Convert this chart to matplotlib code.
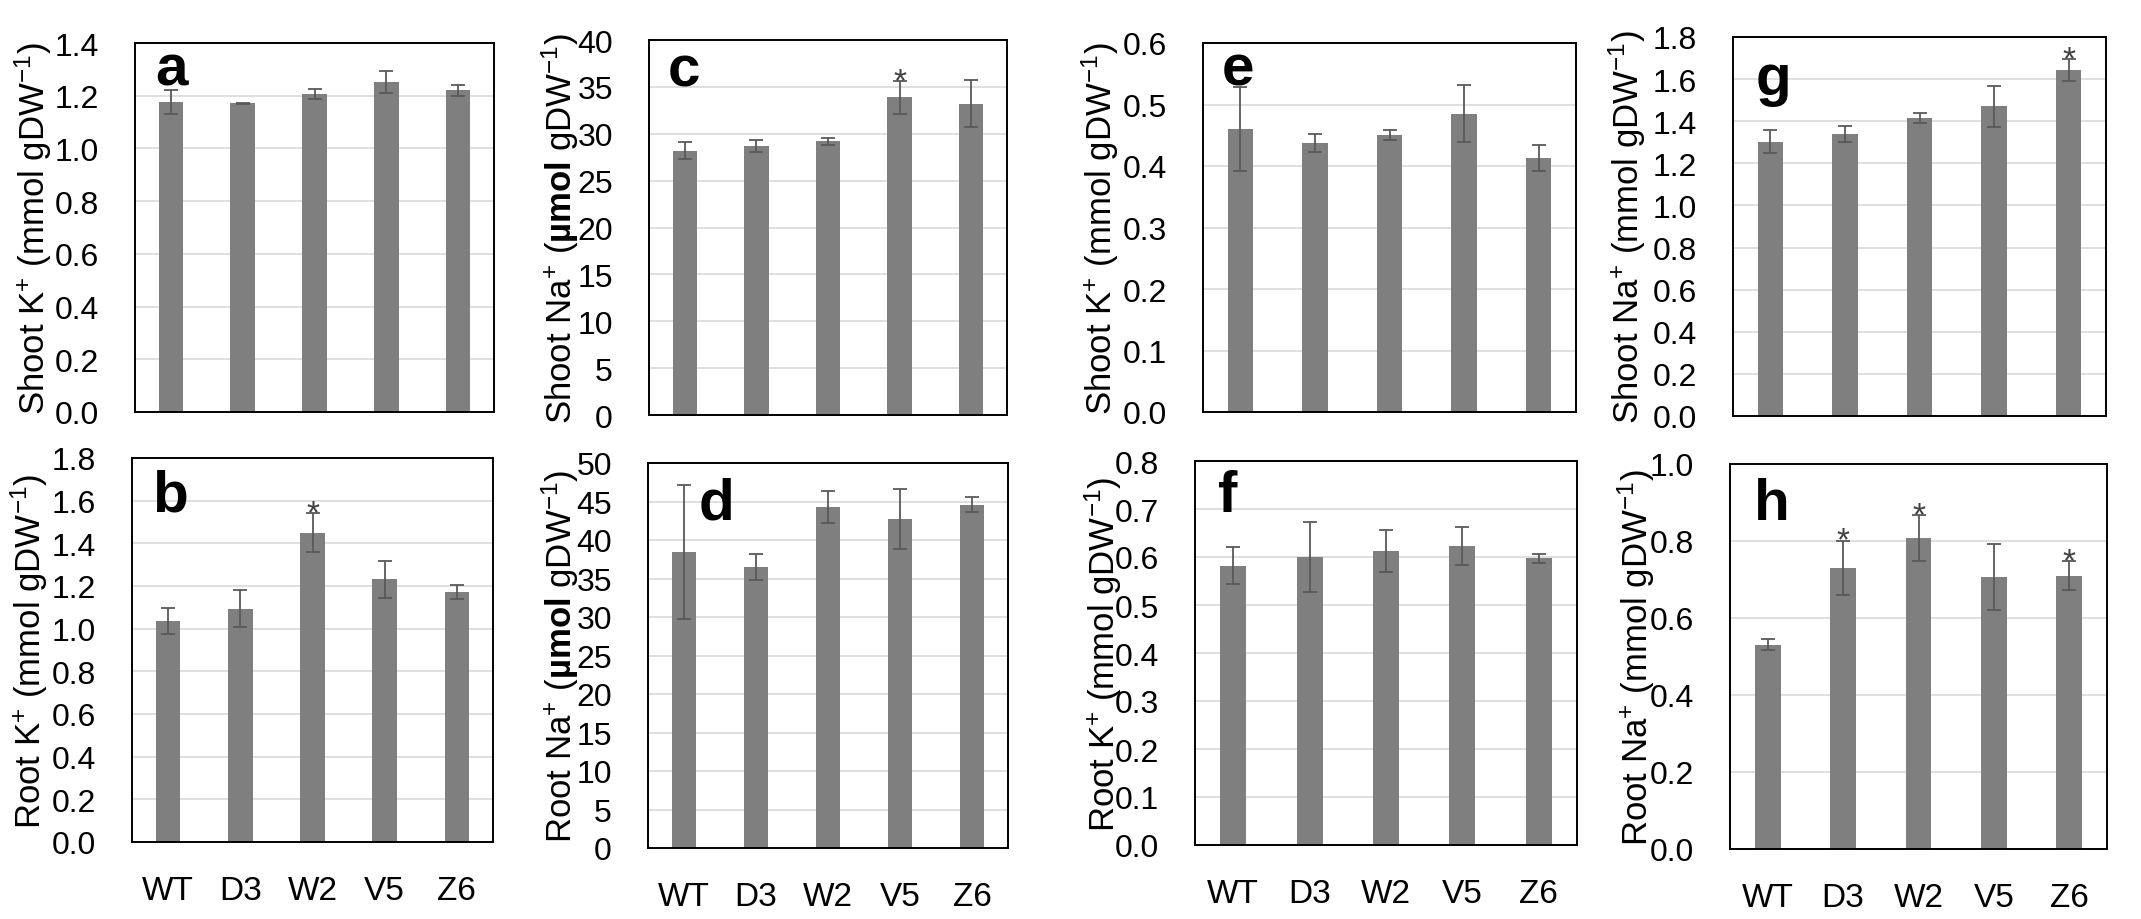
import matplotlib
matplotlib.use('Agg')
import matplotlib.pyplot as plt
import numpy as np

plt.rcParams['font.family'] = ['Liberation Sans', 'DejaVu Sans']
plt.rcParams['mathtext.fontset'] = 'custom'
plt.rcParams['mathtext.rm'] = 'Liberation Sans'
plt.rcParams['mathtext.bf'] = 'Liberation Sans:bold'
plt.rcParams['mathtext.it'] = 'Liberation Sans:italic'

cats = ['WT', 'D3', 'W2', 'V5', 'Z6']

# a: shoot K+ (line 1)
a_vals = [1.176, 1.171, 1.206, 1.252, 1.220]
a_err = [0.045, 0.003, 0.020, 0.043, 0.020]
a_star = []
# b: root K+ (line 1)
b_vals = [1.036, 1.094, 1.450, 1.231, 1.172]
b_err = [0.060, 0.085, 0.092, 0.086, 0.033]
b_star = ['W2']
# c: shoot Na+ (line 1)
c_vals = [28.2, 28.7, 29.2, 33.9, 33.2]
c_err = [0.9, 0.6, 0.4, 1.75, 2.5]
c_star = ['V5']
# d: root Na+ (line 1)
d_vals = [38.4, 36.5, 44.3, 42.7, 44.6]
d_err = [8.7, 1.7, 2.1, 3.9, 1.0]
d_star = []
# e: shoot K+ (line 2)
e_vals = [0.460, 0.437, 0.450, 0.485, 0.413]
e_err = [0.068, 0.015, 0.008, 0.046, 0.021]
e_star = []
# f: root K+ (line 2)
f_vals = [0.582, 0.600, 0.612, 0.623, 0.597]
f_err = [0.039, 0.072, 0.044, 0.039, 0.009]
f_star = []
# g: shoot Na+ (line 2)
g_vals = [1.302, 1.337, 1.414, 1.471, 1.644]
g_err = [0.054, 0.038, 0.024, 0.098, 0.052]
g_star = ['Z6']
# h: root Na+ (line 2)
h_vals = [0.531, 0.731, 0.807, 0.707, 0.710]
h_err = [0.015, 0.070, 0.060, 0.085, 0.038]
h_star = ['D3', 'W2', 'Z6']

W, H = 2141, 920
fig = plt.figure(figsize=(W / 100, H / 100), dpi=100)

lab_sk = r'Shoot K$^{+}$ (mmol gDW$^{-1}$)'
lab_rk = r'Root K$^{+}$ (mmol gDW$^{-1}$)'
lab_sn_u = r'Shoot Na$^{+}$ ($\mathbf{µmol}$ gDW$^{-1}$)'
lab_rn_u = r'Root Na$^{+}$ ($\mathbf{µmol}$ gDW$^{-1}$)'
lab_sn = r'Shoot Na$^{+}$ (mmol gDW$^{-1}$)'
lab_rn = r'Root Na$^{+}$ (mmol gDW$^{-1}$)'

# letter, vals, err, stars, ylabel, ymax, ystep, fmt, box(px), ylabel dist, letter offset, bottom row
panels = [
    ('a', a_vals, a_err, a_star, lab_sk, 1.4, 0.2, '{:.1f}', (135, 44, 494, 413), 102, (20, 41), False),
    ('c', c_vals, c_err, c_star, lab_sn_u, 40, 5, '{:.0f}', (649, 41, 1007, 416), 89, (19, 45), False),
    ('e', e_vals, e_err, e_star, lab_sk, 0.6, 0.1, '{:.1f}', (1203, 44, 1576, 413), 103, (19, 41), False),
    ('g', g_vals, g_err, g_star, lab_sn, 1.8, 0.2, '{:.1f}', (1733, 38, 2106, 417), 106, (23, 57), False),
    ('b', b_vals, b_err, b_star, lab_rk, 1.8, 0.2, '{:.1f}', (132, 459, 493, 843), 103, (20, 53), True),
    ('d', d_vals, d_err, d_star, lab_rn_u, 50, 5, '{:.0f}', (648, 464, 1008, 849), 88, (51, 56), True),
    ('f', f_vals, f_err, f_star, lab_rk, 0.8, 0.1, '{:.1f}', (1195, 462, 1577, 846), 92, (23, 50), True),
    ('h', h_vals, h_err, h_star, lab_rn, 1.0, 0.2, '{:.1f}', (1730, 465, 2107, 850), 94, (24, 55), True),
]

x = np.arange(len(cats))
for letter, vals, err, stars, ylab, ymax, ystep, fmt, box, ydist, loff, bottom in panels:
    l, t, r, b = box
    ax = fig.add_axes([l / W, 1 - b / H, (r - l) / W, (b - t) / H])
    ax.bar(x, vals, width=0.34, color='#7f7f7f', zorder=2)
    ax.errorbar(x, vals, yerr=err, fmt='none', ecolor='#595959', elinewidth=1.3,
                capsize=5, capthick=1.3, zorder=3)
    ax.set_xlim(-0.5, len(cats) - 0.5)
    ax.set_ylim(0, ymax)
    ticks = np.arange(0, ymax + ystep / 2, ystep)
    ax.set_yticks(ticks)
    ax.set_yticklabels([fmt.format(v) for v in ticks], fontsize=23)
    ax.yaxis.grid(True, color='#d9d9d9', linewidth=1.2, zorder=0)
    ax.set_axisbelow(True)
    ax.tick_params(axis='y', length=0, pad=26)
    if bottom:
        ax.set_xticks(x)
        ax.set_xticklabels(cats, fontsize=24)
        ax.tick_params(axis='x', length=0, pad=24)
    else:
        ax.set_xticks([])
    for s in ax.spines.values():
        s.set_linewidth(1.4)
        s.set_color('black')
    ax.set_ylabel(ylab, fontsize=25)
    ax.yaxis.set_label_coords(-ydist / (r - l), 0.5)
    ax.yaxis.label.set_verticalalignment('center')
    ax.annotate(letter, xy=(0, 1), xycoords='axes fraction', xytext=(loff[0], -loff[1]),
                textcoords='offset pixels', fontsize=42, fontweight='bold',
                ha='left', va='baseline')
    for name in stars:
        i = cats.index(name)
        ax.annotate('*', xy=(x[i], vals[i] + err[i]), xycoords='data', xytext=(0, -9),
                    textcoords='offset pixels', fontsize=24, ha='center', va='baseline',
                    color='#404040')

fig.savefig('out.png', dpi=100)
